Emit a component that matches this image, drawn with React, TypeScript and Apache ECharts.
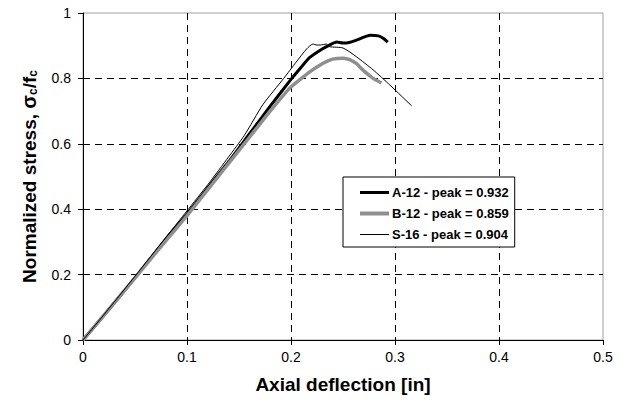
import React, { useEffect, useRef } from "react";
import * as echarts from "echarts";

const xTicks = [0, 0.1, 0.2, 0.3, 0.4, 0.5];
const yTicks = [0, 0.2, 0.4, 0.6, 0.8, 1];

const seriesNames = ["A-12 - peak = 0.932", "B-12 - peak = 0.859", "S-16 - peak = 0.904"];

const a12: [number, number][] = [
  [0, 0], [0.02, 0.075], [0.05, 0.19], [0.08, 0.31], [0.1, 0.385], [0.12, 0.465],
  [0.14, 0.545], [0.16, 0.63], [0.18, 0.715], [0.2, 0.797], [0.21, 0.835], [0.218, 0.864],
  [0.23, 0.89], [0.237, 0.902], [0.244, 0.911], [0.25, 0.908], [0.256, 0.91], [0.263, 0.917],
  [0.27, 0.926], [0.276, 0.932], [0.284, 0.93], [0.289, 0.922], [0.293, 0.911],
];

const b12: [number, number][] = [
  [0, 0], [0.02, 0.075], [0.05, 0.19], [0.08, 0.305], [0.1, 0.38], [0.12, 0.46],
  [0.14, 0.54], [0.16, 0.62], [0.18, 0.70], [0.199, 0.771], [0.21, 0.80], [0.218, 0.82],
  [0.23, 0.845], [0.24, 0.859], [0.25, 0.862], [0.257, 0.857], [0.263, 0.845], [0.269, 0.826],
  [0.279, 0.80], [0.287, 0.786],
];

const s16: [number, number][] = [
  [0, 0], [0.02, 0.077], [0.05, 0.195], [0.08, 0.315], [0.1, 0.395], [0.12, 0.475],
  [0.14, 0.56], [0.155, 0.625], [0.173, 0.72], [0.193, 0.80], [0.205, 0.85], [0.215, 0.89],
  [0.221, 0.905], [0.225, 0.902], [0.228, 0.902], [0.234, 0.905], [0.237, 0.897], [0.25, 0.893],
  [0.263, 0.866], [0.279, 0.826], [0.295, 0.78], [0.316, 0.716],
];

const FONT = "Liberation Sans, Arial, sans-serif";

export default function App() {
  const ref = useRef<HTMLDivElement>(null);
  useEffect(() => {
    if (!ref.current) return;
    const chart = echarts.init(ref.current, null, { renderer: "svg" });
    chart.setOption({
      animation: false,
      backgroundColor: "#ffffff",
      grid: {
        left: 83,
        right: 19,
        top: 13,
        bottom: 69,
        show: true,
        borderColor: "#a0a0a0",
        borderWidth: 1,
      },
      legend: {
        data: [
          { name: seriesNames[0], icon: "path://M0,0H29V3H0Z", itemStyle: { color: "#000" } },
          { name: seriesNames[1], icon: "path://M0,0H29V4H0Z", itemStyle: { color: "#8f8f8f" } },
          { name: seriesNames[2], icon: "path://M0,0H29V1H0Z", itemStyle: { color: "#000" } },
        ],
        orient: "vertical",
        left: 343,
        top: 177,
        symbolKeepAspect: true,
        backgroundColor: "#ffffff",
        borderColor: "#000000",
        borderWidth: 1,
        borderRadius: 0,
        padding: [9, 6, 6, 17],
        itemWidth: 29,
        itemHeight: 14,
        itemGap: 8,
        textStyle: {
          fontFamily: FONT,
          fontWeight: "bold",
          fontSize: 13,
          color: "#000",
          padding: [0, 0, 0, -2],
        },
      },
      xAxis: {
        type: "value",
        min: 0,
        max: 0.5,
        interval: 0.1,
        name: "Axial deflection [in]",
        nameLocation: "middle",
        nameGap: 35,
        nameTextStyle: { fontFamily: FONT, fontWeight: "bold", fontSize: 19, color: "#000" },
        axisLine: { show: true, lineStyle: { color: "#000", width: 1 } },
        axisTick: { show: true, inside: false, length: 5, lineStyle: { color: "#000" } },
        axisLabel: {
          fontFamily: FONT,
          fontSize: 14,
          color: "#000",
          margin: 10,
          formatter: (v: number) => String(xTicks.find((t) => Math.abs(t - v) < 1e-9) ?? v),
        },
        splitLine: {
          show: true,
          showMinLine: false,
          showMaxLine: false,
          lineStyle: { color: "#000", type: [7, 5], width: 1 },
        },
      },
      yAxis: {
        type: "value",
        min: 0,
        max: 1,
        interval: 0.2,
        name: "Normalized stress, {s|σ}{sub|c}{t|/f}{sub|c}",
        nameLocation: "middle",
        nameRotate: 90,
        nameGap: 44,
        nameTextStyle: {
          fontFamily: FONT,
          fontWeight: "bold",
          fontSize: 19,
          color: "#000",
          rich: {
            s: { fontFamily: FONT, fontWeight: "bold", fontSize: 20, color: "#000" },
            t: { fontFamily: FONT, fontWeight: "bold", fontSize: 19, color: "#000" },
            sub: {
              fontFamily: FONT,
              fontWeight: "bold",
              fontSize: 12,
              color: "#000",
              verticalAlign: "bottom",
              padding: [8, 0, 0, 0],
            },
          },
        },
        axisLine: { show: true, lineStyle: { color: "#000", width: 1 } },
        axisTick: { show: true, inside: false, length: 5, lineStyle: { color: "#000" } },
        axisLabel: {
          fontFamily: FONT,
          fontSize: 14,
          color: "#000",
          margin: 12,
          formatter: (v: number) => String(yTicks.find((t) => Math.abs(t - v) < 1e-9) ?? v),
        },
        splitLine: {
          show: true,
          showMinLine: false,
          showMaxLine: false,
          lineStyle: { color: "#000", type: [7, 5], width: 1 },
        },
      },
      series: [
        {
          name: seriesNames[0],
          type: "line",
          data: a12,
          symbol: "none",
          smooth: 0.2,
          lineStyle: { color: "#000", width: 3 },
          itemStyle: { color: "#000" },
          z: 3,
        },
        {
          name: seriesNames[1],
          type: "line",
          data: b12,
          symbol: "none",
          smooth: 0.2,
          lineStyle: { color: "#8f8f8f", width: 3.5 },
          itemStyle: { color: "#8f8f8f" },
          z: 4,
        },
        {
          name: seriesNames[2],
          type: "line",
          data: s16,
          symbol: "none",
          smooth: 0.2,
          lineStyle: { color: "#000", width: 1 },
          itemStyle: { color: "#000" },
          z: 5,
        },
      ],
    });
    return () => chart.dispose();
  }, []);
  return <div ref={ref} style={{ width: 622, height: 409, position: "absolute", left: 0, top: 0 }} />;
}
